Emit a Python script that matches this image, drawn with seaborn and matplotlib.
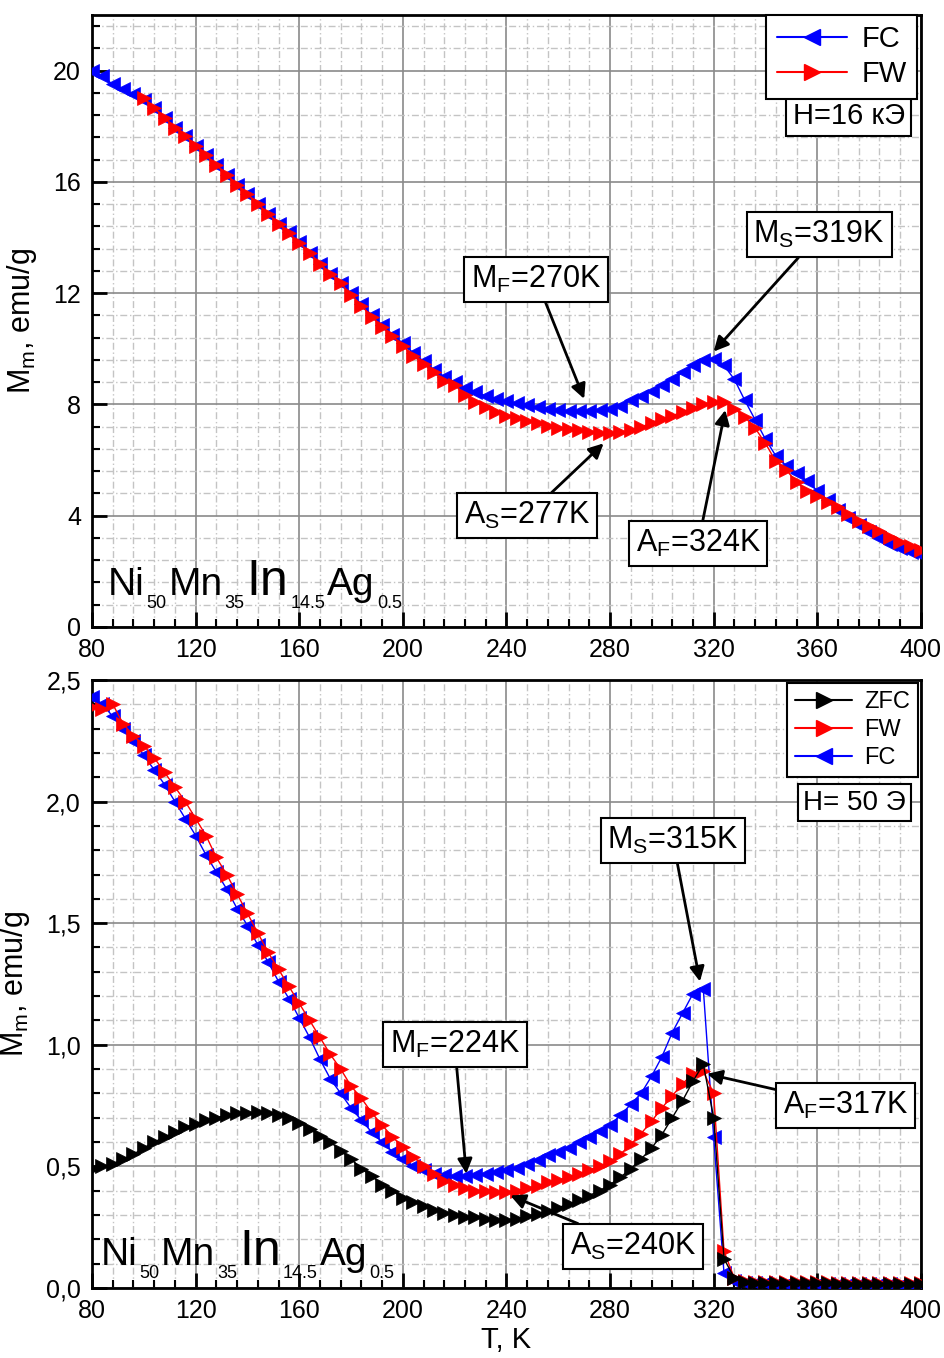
import matplotlib
matplotlib.use('Agg')
import matplotlib.pyplot as plt
import seaborn as sns
from matplotlib.ticker import MultipleLocator, FuncFormatter
from matplotlib.lines import Line2D
from matplotlib.transforms import ScaledTranslation

# ---------------- data ----------------
# temperature grid, K (one point every ~4 K)
T_grid = [80, 84, 88, 92, 96, 100, 104, 108, 112, 116, 120, 124, 128, 132, 136, 140,
          144, 148, 152, 156, 160, 164, 168, 172, 176, 180, 184, 188, 192, 196, 200,
          204, 208, 212, 216, 220, 224, 228, 232, 236, 240, 244, 248, 252, 256, 260,
          264, 268, 272, 276, 280, 284, 288, 292, 296, 300, 304, 308, 312, 316, 320,
          324, 328, 332, 336, 340, 344, 348, 352, 356, 360, 364, 368, 372, 376, 380,
          384, 388, 392, 396, 400]

# upper panel, H = 16 kOe
T_top_fc = T_grid
M_top_fc = [20.0, 19.8, 19.5, 19.35, 19.15, 18.95, 18.65, 18.3, 17.95, 17.65, 17.3,
            16.95, 16.6, 16.25, 15.9, 15.55, 15.2, 14.85, 14.5, 14.2, 13.85, 13.45,
            13.05, 12.7, 12.35, 12.0, 11.6, 11.2, 10.85, 10.5, 10.2, 9.85, 9.55, 9.25,
            9.0, 8.8, 8.6, 8.45, 8.3, 8.2, 8.12, 8.05, 7.98, 7.9, 7.85, 7.8, 7.75, 7.75,
            7.75, 7.8, 7.85, 7.95, 8.15, 8.3, 8.5, 8.7, 8.9, 9.15, 9.4, 9.6, 9.65, 9.4,
            8.9, 8.15, 7.45, 6.75, 6.15, 5.8, 5.55, 5.25, 4.9, 4.55, 4.2, 3.9, 3.65,
            3.4, 3.2, 3.0, 2.85, 2.7, 2.6]
T_top_fw = T_grid[5:]
M_top_fw = [19.0, 18.65, 18.3, 17.95, 17.65, 17.3, 16.95, 16.6, 16.25, 15.9, 15.55,
            15.2, 14.85, 14.5, 14.15, 13.8, 13.45, 13.05, 12.7, 12.35, 11.95, 11.55,
            11.15, 10.8, 10.45, 10.1, 9.75, 9.45, 9.15, 8.85, 8.7, 8.35, 8.1, 7.9, 7.72,
            7.6, 7.5, 7.42, 7.32, 7.22, 7.17, 7.1, 7.07, 7.02, 6.98, 6.98, 7.0, 7.08,
            7.18, 7.35, 7.47, 7.6, 7.72, 7.88, 8.0, 8.1, 8.1, 7.85, 7.55, 7.15, 6.6,
            5.95, 5.65, 5.2, 4.9, 4.72, 4.5, 4.3, 4.05, 3.82, 3.62, 3.45, 3.25, 3.06,
            2.9, 2.75]

# lower panel, H = 50 Oe
T_bot = T_grid
M_bot_zfc = [0.49, 0.50, 0.51, 0.53, 0.55, 0.575, 0.60, 0.62, 0.64, 0.66, 0.675, 0.69,
             0.70, 0.71, 0.72, 0.72, 0.725, 0.72, 0.71, 0.70, 0.68, 0.655, 0.625, 0.60,
             0.565, 0.53, 0.49, 0.46, 0.425, 0.40, 0.37, 0.355, 0.335, 0.32, 0.31, 0.30,
             0.29, 0.29, 0.285, 0.28, 0.28, 0.285, 0.295, 0.305, 0.315, 0.33, 0.345,
             0.36, 0.38, 0.40, 0.425, 0.455, 0.49, 0.53, 0.575, 0.63, 0.70, 0.77, 0.85,
             0.92, 0.70, 0.12, 0.04, 0.025, 0.02, 0.02, 0.02, 0.02, 0.02, 0.02, 0.02,
             0.02, 0.018, 0.018, 0.018, 0.018, 0.017, 0.017, 0.016, 0.016, 0.015]
M_bot_fw = [2.39, 2.38, 2.40, 2.32, 2.27, 2.23, 2.18, 2.12, 2.06, 2.0, 1.93, 1.86, 1.77,
            1.70, 1.62, 1.54, 1.46, 1.38, 1.31, 1.24, 1.17, 1.10, 1.03, 0.96, 0.90, 0.83,
            0.78, 0.72, 0.67, 0.62, 0.58, 0.54, 0.50, 0.47, 0.44, 0.425, 0.41, 0.40,
            0.40, 0.395, 0.395, 0.40, 0.41, 0.42, 0.435, 0.445, 0.455, 0.47, 0.485, 0.50,
            0.52, 0.55, 0.59, 0.635, 0.685, 0.74, 0.79, 0.84, 0.88, 0.89, 0.80, 0.15,
            0.04, 0.03, 0.025, 0.025, 0.025, 0.025, 0.024, 0.024, 0.023, 0.023, 0.022,
            0.022, 0.022, 0.021, 0.021, 0.02, 0.02, 0.02, 0.02]
M_bot_fc = [2.43, 2.40, 2.35, 2.30, 2.25, 2.19, 2.13, 2.07, 2.0, 1.93, 1.86, 1.78, 1.71,
            1.64, 1.56, 1.49, 1.41, 1.34, 1.26, 1.19, 1.11, 1.03, 0.94, 0.86, 0.80, 0.74,
            0.69, 0.64, 0.60, 0.56, 0.53, 0.50, 0.485, 0.47, 0.465, 0.46, 0.46, 0.465,
            0.47, 0.475, 0.485, 0.495, 0.51, 0.525, 0.545, 0.56, 0.575, 0.60, 0.62,
            0.645, 0.67, 0.71, 0.755, 0.80, 0.87, 0.95, 1.05, 1.13, 1.21, 1.23, 0.62,
            0.06, 0.03, 0.02, 0.02, 0.02, 0.018, 0.018, 0.018, 0.017, 0.017, 0.016,
            0.016, 0.016, 0.015, 0.015, 0.015, 0.015, 0.014, 0.014, 0.014]

top_yticks = [0, 4, 8, 12, 16, 20]
bot_yticks = [0.0, 0.5, 1.0, 1.5, 2.0, 2.5]
x_ticks = [80, 120, 160, 200, 240, 280, 320, 360, 400]

formula_pieces = [('Ni', 28, False), ('50', 13, True), ('Mn', 28, False), ('35', 13, True),
                  ('In', 36, False), ('14.5', 13, True), ('Ag', 28, False), ('0.5', 13, True)]

# ---------------- style ----------------
sns.set_style('white')
plt.rcParams['font.family'] = ['Liberation Sans', 'DejaVu Sans']
plt.rcParams['mathtext.default'] = 'regular'
plt.rcParams['text.color'] = 'black'
plt.rcParams['axes.labelcolor'] = 'black'
plt.rcParams['xtick.color'] = 'black'
plt.rcParams['ytick.color'] = 'black'

fig = plt.figure(figsize=(9.44, 13.58), dpi=100)
ax1 = fig.add_axes([0.0975, 0.5383, 0.878, 0.4507])
ax2 = fig.add_axes([0.0975, 0.0516, 0.878, 0.4477])


def style_axes(ax, ymax, ymajor, yminor):
    ax.set_xlim(80, 400)
    ax.set_ylim(0, ymax)
    ax.set_xticks(x_ticks)
    ax.xaxis.set_minor_locator(MultipleLocator(8))
    ax.yaxis.set_major_locator(MultipleLocator(ymajor))
    ax.yaxis.set_minor_locator(MultipleLocator(yminor))
    ax.grid(which='major', color='#8a8a8a', lw=1.2, ls='-')
    ax.grid(which='minor', color='#c4c4c4', lw=1.0, ls=(0, (5, 2, 1, 2)))
    ax.set_axisbelow(True)
    for sp in ax.spines.values():
        sp.set_color('black')
        sp.set_linewidth(2)
    ax.tick_params(which='major', direction='in', length=11, width=2, labelsize=18,
                   pad=8, left=True, bottom=True, top=False, right=False)
    ax.tick_params(which='minor', direction='in', length=6, width=1.5,
                   left=True, bottom=True, top=False, right=False)


def draw(ax, T, M, color, marker):
    sns.lineplot(x=T, y=M, ax=ax, color=color, marker=marker, markersize=10,
                 markeredgecolor=color, markeredgewidth=0.5, linewidth=1,
                 sort=False, legend=False, zorder=3)


def note(ax, text, xy, xytext):
    ax.annotate(text, xy=xy, xytext=xytext, ha='center', va='center', fontsize=22,
                bbox=dict(boxstyle='square,pad=0.22', fc='white', ec='black', lw=1.5),
                arrowprops=dict(arrowstyle='-|>', color='black', lw=2, mutation_scale=22,
                                shrinkA=0, shrinkB=0),
                zorder=6)


def formula(ax, x0, y0):
    renderer = fig.canvas.get_renderer()
    dx = 0.0
    for s, size, sub in formula_pieces:
        dy = -0.13 if sub else 0.0
        tr = ax.transAxes + ScaledTranslation(dx, dy, fig.dpi_scale_trans)
        t = ax.text(x0, y0, s, fontsize=size, transform=tr, ha='left', va='baseline',
                    color='black', zorder=6)
        dx += t.get_window_extent(renderer).width / fig.dpi + 0.02


def legend(ax, items, fs, anchor):
    handles = [Line2D([], [], color=c, marker=m, markersize=12, lw=1.5, markeredgecolor=c)
               for c, m, _ in items]
    labels = [l for _, _, l in items]
    leg = ax.legend(handles, labels, loc='upper right', bbox_to_anchor=anchor,
                    borderaxespad=0, fontsize=fs, handlelength=2.4, handletextpad=0.5,
                    fancybox=False, edgecolor='black', framealpha=1, labelspacing=0.25,
                    borderpad=0.35)
    leg.get_frame().set_linewidth(1.5)
    leg.set_zorder(7)


# ---------------- upper panel ----------------
style_axes(ax1, 22, 4, 0.8)
ax1.set_yticks(top_yticks)
draw(ax1, T_top_fc, M_top_fc, 'blue', '<')
draw(ax1, T_top_fw, M_top_fw, 'red', '>')
ax1.set_xlabel('')
ax1.set_ylabel('M$_m$, emu/g', fontsize=22, labelpad=10)

note(ax1, 'M$_F$=270K', (270, 8.2), (251.5, 12.5))
note(ax1, 'M$_S$=319K', (320, 9.9), (360.7, 14.1))
note(ax1, 'A$_S$=277K', (277.5, 6.6), (248, 4.0))
note(ax1, 'A$_F$=324K', (324.5, 7.8), (314, 3.0))

legend(ax1, [('blue', '<', 'FC'), ('red', '>', 'FW')], 21, (0.995, 1.0))
ax1.text(0.913, 0.835, 'H=16 кЭ', transform=ax1.transAxes, ha='center', va='center',
         fontsize=21, zorder=7,
         bbox=dict(boxstyle='square,pad=0.22', fc='white', ec='black', lw=1.5))

# ---------------- lower panel ----------------
style_axes(ax2, 2.5, 0.5, 0.1)
ax2.set_yticks(bot_yticks)
ax2.yaxis.set_major_formatter(FuncFormatter(lambda v, p: f'{v:.1f}'.replace('.', ',')))
draw(ax2, T_bot, M_bot_fc, 'blue', '<')
draw(ax2, T_bot, M_bot_fw, 'red', '>')
draw(ax2, T_bot, M_bot_zfc, 'black', '>')
ax2.set_xlabel('T, K', fontsize=21, labelpad=2)
ax2.set_ylabel('M$_m$, emu/g', fontsize=22, labelpad=10)

note(ax2, 'M$_S$=315K', (314.7, 1.26), (304.3, 1.84))
note(ax2, 'M$_F$=224K', (224.5, 0.47), (220, 1.0))
note(ax2, 'A$_S$=240K', (241.5, 0.38), (289, 0.17))
note(ax2, 'A$_F$=317K', (317.5, 0.88), (371, 0.75))

legend(ax2, [('black', '>', 'ZFC'), ('red', '>', 'FW'), ('blue', '<', 'FC')], 17,
       (0.9965, 0.995))
ax2.text(0.92, 0.798, 'H= 50 Э', transform=ax2.transAxes, ha='center', va='center',
         fontsize=20, zorder=7,
         bbox=dict(boxstyle='square,pad=0.2', fc='white', ec='black', lw=1.5))

fig.canvas.draw()
formula(ax1, 0.019, 0.052)
formula(ax2, 0.010, 0.038)

fig.align_ylabels([ax1, ax2])
fig.savefig('out.png', dpi=100)
